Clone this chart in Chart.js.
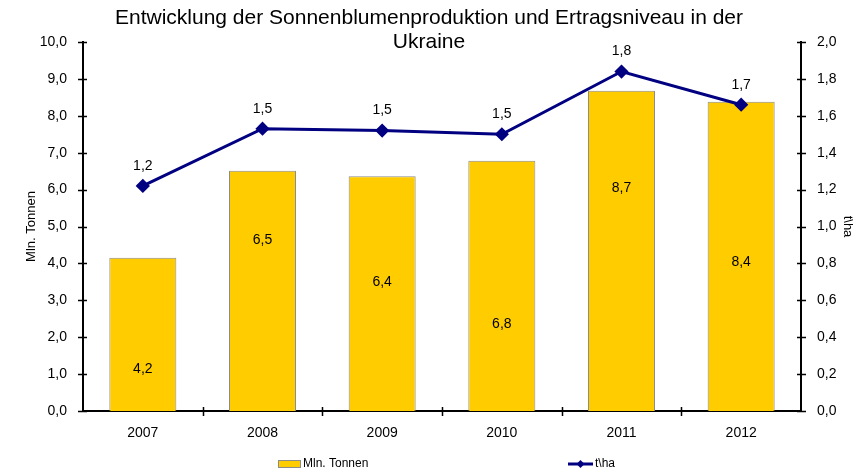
<!DOCTYPE html>
<html>
<head>
<meta charset="utf-8">
<script src="https://cdn.jsdelivr.net/npm/chart.js"></script>
<style>
  html, body { margin: 0; padding: 0; background: #fff; }
  #wrap { width: 859px; height: 476px; position: relative; }
</style>
</head>
<body>
<div id="wrap"><canvas id="chart"></canvas></div>
<script>
// Data
const years = ["2007", "2008", "2009", "2010", "2011", "2012"];
const productionMlnT = [4.15, 6.51, 6.36, 6.78, 8.68, 8.38];
const yieldTHa = [1.22, 1.53, 1.52, 1.50, 1.84, 1.66];
const titleLines = ["Entwicklung der Sonnenblumenproduktion und Ertragsniveau in der", "Ukraine"];

const FONT = "'Liberation Sans', Arial, sans-serif";
const fmt = (v) => Number(v).toFixed(1).replace(".", ",");

// Draws title, tick marks crossing the axes, value labels and the legend
const decorPlugin = {
  id: "decor",
  afterDraw(chart, args, opts) {
    const ctx = chart.ctx;
    const area = chart.chartArea;
    const y = chart.scales.y;
    const y1 = chart.scales.y1;
    ctx.save();

    // Title
    ctx.fillStyle = "#000";
    ctx.font = "21px " + FONT;
    ctx.textAlign = "center";
    ctx.textBaseline = "middle";
    ctx.fillText(titleLines[0], 429, 18);
    ctx.fillText(titleLines[1], 429, 42);

    // Tick marks crossing the axes
    ctx.strokeStyle = "#000";
    ctx.lineWidth = 1.5;
    ctx.beginPath();
    y.ticks.forEach((t, i) => {
      const py = Math.round(y.getPixelForTick(i)) + 0.5;
      ctx.moveTo(area.left - 5, py);
      ctx.lineTo(area.left + 4, py);
    });
    y1.ticks.forEach((t, i) => {
      const py = Math.round(y1.getPixelForTick(i)) + 0.5;
      ctx.moveTo(area.right - 4, py);
      ctx.lineTo(area.right + 5, py);
    });
    const step = (area.right - area.left) / years.length;
    for (let i = 1; i < years.length; i++) {
      const px = Math.round(area.left + step * i) + 0.5;
      ctx.moveTo(px, area.bottom - 4);
      ctx.lineTo(px, area.bottom + 5);
    }
    ctx.stroke();

    // Bar value labels (placed inside the bars like the reference)
    ctx.font = "14px " + FONT;
    ctx.fillStyle = "#000";
    const barMeta = chart.getDatasetMeta(0);
    barMeta.data.forEach((bar, i) => {
      const py = y.getPixelForValue(opts.barLabelAt[i]);
      ctx.fillText(fmt(productionMlnT[i]), bar.x, py);
    });

    // Line value labels above the points
    const lineMeta = chart.getDatasetMeta(1);
    lineMeta.data.forEach((pt, i) => {
      ctx.fillText(fmt(yieldTHa[i]), pt.x, pt.y - 20);
    });

    // Legend
    ctx.font = "12px " + FONT;
    ctx.textAlign = "left";
    const ly = 464;
    ctx.fillStyle = "#FFCC00";
    ctx.fillRect(278, ly - 4, 22, 7);
    ctx.strokeStyle = "#8c8c8c";
    ctx.lineWidth = 1;
    ctx.strokeRect(278.5, ly - 3.5, 22, 7);
    ctx.fillStyle = "#000";
    ctx.fillText(chart.data.datasets[0].label, 303, ly);

    ctx.strokeStyle = "#000080";
    ctx.lineWidth = 3;
    ctx.beginPath();
    ctx.moveTo(568, ly);
    ctx.lineTo(593, ly);
    ctx.stroke();
    ctx.fillStyle = "#000080";
    ctx.beginPath();
    ctx.moveTo(580.5, ly - 4);
    ctx.lineTo(584.5, ly);
    ctx.lineTo(580.5, ly + 4);
    ctx.lineTo(576.5, ly);
    ctx.closePath();
    ctx.fill();
    ctx.fillStyle = "#000";
    ctx.fillText(chart.data.datasets[1].label, 595, ly);

    ctx.restore();
  },
};

const ctx = document.getElementById("chart").getContext("2d");
new Chart(ctx, {
  type: "bar",
  data: {
    labels: years,
    datasets: [
      {
        type: "bar",
        label: "Mln. Tonnen",
        data: productionMlnT,
        backgroundColor: "#FFCC00",
        borderColor: "#8c8c8c",
        borderWidth: 1,
        categoryPercentage: 1.0,
        barPercentage: 0.56,
        yAxisID: "y",
        order: 2,
      },
      {
        type: "line",
        label: "t\\ha",
        data: yieldTHa,
        borderColor: "#000080",
        backgroundColor: "#000080",
        borderWidth: 3,
        pointStyle: "rectRot",
        pointRadius: 5,
        pointBackgroundColor: "#000080",
        pointBorderColor: "#000080",
        tension: 0,
        yAxisID: "y1",
        order: 1,
      },
    ],
  },
  options: {
    responsive: true,
    maintainAspectRatio: false,
    animation: false,
    layout: { padding: { top: 42, left: 0, right: 0, bottom: 0 } },
    plugins: {
      legend: { display: false },
      title: { display: false },
      tooltip: { enabled: false },
      decor: { barLabelAt: [1.14, 4.62, 3.49, 2.35, 6.03, 4.03] },
    },
    scales: {
      x: {
        grid: { display: false },
        border: { display: true, color: "#000", width: 2 },
        ticks: { color: "#000", font: { family: FONT, size: 14 }, padding: 6 },
        afterFit(scale) { scale.height = 65; },
      },
      y: {
        position: "left",
        min: 0,
        max: 10,
        grid: { display: false },
        border: { display: true, color: "#000", width: 2 },
        ticks: {
          stepSize: 1,
          color: "#000",
          font: { family: FONT, size: 14 },
          padding: 8,
          callback: (v) => fmt(v),
        },
        title: {
          display: true,
          text: "Mln. Tonnen",
          color: "#000",
          font: { family: FONT, size: 13 },
          padding: { top: 24, bottom: 0 },
        },
        afterFit(scale) { scale.width = 83; },
      },
      y1: {
        position: "right",
        min: 0,
        max: 2,
        grid: { display: false },
        border: { display: true, color: "#000", width: 2 },
        ticks: {
          stepSize: 0.2,
          color: "#000",
          font: { family: FONT, size: 14 },
          padding: 8,
          callback: (v) => fmt(v),
        },
        title: {
          display: true,
          text: "t\\ha",
          color: "#000",
          font: { family: FONT, size: 13 },
          padding: { top: 4, bottom: 0 },
        },
        afterFit(scale) { scale.width = 58; },
      },
    },
  },
  plugins: [decorPlugin],
});
</script>
</body>
</html>
